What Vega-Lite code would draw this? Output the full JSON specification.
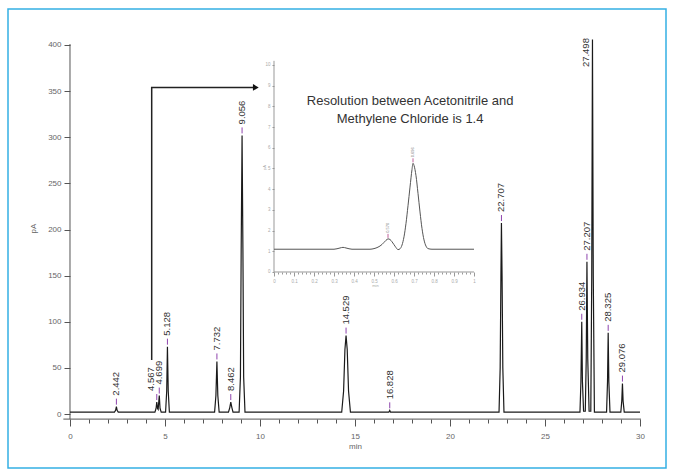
{
  "$schema": "https://vega.github.io/schema/vega-lite/v6.json",
  "width": 658,
  "height": 459,
  "autosize": {"type": "none"},
  "padding": {"left": 8, "top": 9, "right": 8, "bottom": 8},
  "background": "#ffffff",
  "config": {
    "view": {"stroke": "#35b0e4", "strokeWidth": 1.5},
    "axis": {"grid": false, "domain": false, "labelFont": "Liberation Sans", "titleFont": "Liberation Sans"}
  },
  "datasets": {
    "chrom": [
      {"t": 0, "pA": 2},
      {"t": 2.34, "pA": 2}, {"t": 2.40, "pA": 4}, {"t": 2.442, "pA": 8}, {"t": 2.48, "pA": 4}, {"t": 2.54, "pA": 2},
      {"t": 4.47, "pA": 2}, {"t": 4.53, "pA": 6}, {"t": 4.567, "pA": 13}, {"t": 4.61, "pA": 6}, {"t": 4.64, "pA": 5}, {"t": 4.699, "pA": 20}, {"t": 4.74, "pA": 6}, {"t": 4.80, "pA": 2},
      {"t": 5.03, "pA": 2}, {"t": 5.09, "pA": 25}, {"t": 5.128, "pA": 73}, {"t": 5.17, "pA": 25}, {"t": 5.23, "pA": 2},
      {"t": 7.61, "pA": 2}, {"t": 7.68, "pA": 20}, {"t": 7.732, "pA": 57}, {"t": 7.78, "pA": 20}, {"t": 7.85, "pA": 2},
      {"t": 8.34, "pA": 2}, {"t": 8.41, "pA": 7}, {"t": 8.462, "pA": 13}, {"t": 8.52, "pA": 7}, {"t": 8.58, "pA": 2},
      {"t": 8.90, "pA": 2}, {"t": 8.97, "pA": 40}, {"t": 9.01, "pA": 180}, {"t": 9.056, "pA": 302}, {"t": 9.10, "pA": 180}, {"t": 9.14, "pA": 40}, {"t": 9.21, "pA": 2},
      {"t": 14.30, "pA": 2}, {"t": 14.40, "pA": 25}, {"t": 14.47, "pA": 70}, {"t": 14.529, "pA": 85}, {"t": 14.59, "pA": 70}, {"t": 14.66, "pA": 25}, {"t": 14.76, "pA": 2},
      {"t": 16.78, "pA": 2}, {"t": 16.828, "pA": 4}, {"t": 16.87, "pA": 2},
      {"t": 22.58, "pA": 2}, {"t": 22.64, "pA": 50}, {"t": 22.68, "pA": 150}, {"t": 22.707, "pA": 207}, {"t": 22.74, "pA": 150}, {"t": 22.78, "pA": 50}, {"t": 22.84, "pA": 2},
      {"t": 26.84, "pA": 2}, {"t": 26.89, "pA": 35}, {"t": 26.934, "pA": 100}, {"t": 26.97, "pA": 35}, {"t": 27.03, "pA": 3},
      {"t": 27.12, "pA": 3}, {"t": 27.17, "pA": 60}, {"t": 27.207, "pA": 165}, {"t": 27.25, "pA": 60}, {"t": 27.32, "pA": 3},
      {"t": 27.41, "pA": 3}, {"t": 27.46, "pA": 150}, {"t": 27.498, "pA": 406}, {"t": 27.54, "pA": 150}, {"t": 27.60, "pA": 2},
      {"t": 28.24, "pA": 2}, {"t": 28.29, "pA": 35}, {"t": 28.325, "pA": 88}, {"t": 28.36, "pA": 35}, {"t": 28.42, "pA": 2},
      {"t": 28.99, "pA": 2}, {"t": 29.04, "pA": 14}, {"t": 29.076, "pA": 33}, {"t": 29.11, "pA": 14}, {"t": 29.17, "pA": 2},
      {"t": 30.0, "pA": 2}
    ],
    "peaks": [
      {"t": 2.442, "pA": 8, "label": "2.442"},
      {"t": 4.567, "pA": 13, "label": "4.567"},
      {"t": 4.699, "pA": 20, "label": "4.699"},
      {"t": 5.128, "pA": 73, "label": "5.128"},
      {"t": 7.732, "pA": 57, "label": "7.732"},
      {"t": 8.462, "pA": 13, "label": "8.462"},
      {"t": 9.056, "pA": 302, "label": "9.056"},
      {"t": 14.529, "pA": 85, "label": "14.529"},
      {"t": 16.828, "pA": 4, "label": "16.828"},
      {"t": 22.707, "pA": 207, "label": "22.707"},
      {"t": 26.934, "pA": 100, "label": "26.934"},
      {"t": 27.207, "pA": 165, "label": "27.207"},
      {"t": 28.325, "pA": 88, "label": "28.325"},
      {"t": 29.076, "pA": 33, "label": "29.076"}
    ],
    "mainAxes": [
      {"t": 0, "pA": -5.5, "t2": 0, "pA2": 401},
      {"t": -0.35, "pA": -5.5, "t2": 30.05, "pA2": -5.5}
    ],
    "arrow": [
      {"i": 1, "t": 4.3, "pA": 58.5},
      {"i": 2, "t": 4.3, "pA": 354},
      {"i": 3, "t": 9.7, "pA": 354}
    ],
    "note": [
      {"t": 17.9, "pA": 339, "txt": "Resolution between Acetonitrile and"},
      {"t": 17.9, "pA": 320, "txt": "Methylene Chloride is 1.4"}
    ],
    "inset": [
      {"u": 0, "v": 1.1}, {"u": 0.30, "v": 1.1}, {"u": 0.33, "v": 1.16}, {"u": 0.345, "v": 1.19}, {"u": 0.36, "v": 1.16}, {"u": 0.39, "v": 1.1},
      {"u": 0.48, "v": 1.1}, {"u": 0.50, "v": 1.13}, {"u": 0.52, "v": 1.2}, {"u": 0.54, "v": 1.33}, {"u": 0.55, "v": 1.43}, {"u": 0.56, "v": 1.53},
      {"u": 0.57, "v": 1.6}, {"u": 0.58, "v": 1.57}, {"u": 0.59, "v": 1.46}, {"u": 0.60, "v": 1.32}, {"u": 0.61, "v": 1.18}, {"u": 0.62, "v": 1.08},
      {"u": 0.63, "v": 1.12}, {"u": 0.64, "v": 1.3}, {"u": 0.65, "v": 1.7}, {"u": 0.66, "v": 2.35}, {"u": 0.67, "v": 3.2}, {"u": 0.68, "v": 4.1},
      {"u": 0.69, "v": 4.95}, {"u": 0.695, "v": 5.25}, {"u": 0.70, "v": 5.15}, {"u": 0.71, "v": 4.65}, {"u": 0.72, "v": 3.8}, {"u": 0.73, "v": 2.9},
      {"u": 0.74, "v": 2.1}, {"u": 0.75, "v": 1.55}, {"u": 0.76, "v": 1.25}, {"u": 0.77, "v": 1.13}, {"u": 0.79, "v": 1.1}, {"u": 1.0, "v": 1.1}
    ],
    "insetPeaks": [
      {"u": 0.57, "v": 1.6, "label": "0.570"},
      {"u": 0.695, "v": 5.25, "label": "0.696"}
    ],
    "insetAxes": [
      {"u": 0, "v": 0, "u2": 0, "v2": 10.2},
      {"u": 0, "v": 0, "u2": 1.0, "v2": 0}
    ]
  },
  "layer": [
    {
      "encoding": {
        "x": {
          "field": "t", "type": "quantitative",
          "scale": {"domain": [-3.263, 31.368], "nice": false, "zero": false},
          "axis": {
            "orient": "bottom", "offset": -49,
            "values": [0,1,2,3,4,5,6,7,8,9,10,11,12,13,14,15,16,17,18,19,20,21,22,23,24,25,26,27,28,29,30],
            "labelExpr": "datum.value % 5 === 0 ? datum.label : ''",
            "tickSize": {"condition": {"test": "datum.value % 5 === 0", "value": 7}, "value": 4},
            "tickColor": "#555", "labelColor": "#666", "labelFontSize": 8, "labelPadding": 6,
            "labelOverlap": false, "labelFlush": false,
            "title": "min", "titleFontSize": 8, "titleFontWeight": "normal", "titleColor": "#666",
            "titleX": 347, "titleY": 27, "titleBaseline": "middle"
          }
        },
        "y": {
          "field": "pA", "type": "quantitative",
          "scale": {"domain": [-58.5, 439], "nice": false, "zero": false},
          "axis": {
            "orient": "left", "offset": -62,
            "values": [0,50,100,150,200,250,300,350,400],
            "tickSize": 6, "tickColor": "#555", "labelColor": "#666", "labelFontSize": 8, "labelPadding": 3,
            "labelOverlap": false, "labelFlush": false,
            "title": "pA", "titleFontSize": 8, "titleFontWeight": "normal", "titleColor": "#666",
            "titleX": -37, "titleY": 219, "titleBaseline": "middle", "titleAlign": "center"
          }
        }
      },
      "layer": [
        {"data": {"name": "mainAxes"}, "mark": {"type": "rule", "color": "#555", "strokeWidth": 1},
         "encoding": {"x2": {"field": "t2"}, "y2": {"field": "pA2"}}},
        {"data": {"name": "chrom"}, "mark": {"type": "line", "color": "#1a1a1a", "strokeWidth": 1.2}, "encoding": {}},
        {"data": {"name": "peaks"}, "mark": {"type": "rule", "color": "#8e44ad", "strokeWidth": 1, "yOffset": -2, "y2Offset": -8},
         "encoding": {"y2": {"field": "pA"}}},
        {"data": {"name": "peaks"}, "transform": [{"filter": "datum.label !== '4.567'"}],
         "mark": {"type": "text", "angle": 270, "align": "left", "baseline": "middle", "yOffset": -11, "fontSize": 9.5,
                  "font": "Liberation Sans", "color": "#333"},
         "encoding": {"text": {"field": "label"}}},
        {"data": {"name": "peaks"}, "transform": [{"filter": "datum.label === '4.567'"}],
         "mark": {"type": "text", "angle": 270, "align": "left", "baseline": "middle", "yOffset": -11, "xOffset": -6, "fontSize": 9.5,
                  "font": "Liberation Sans", "color": "#333"},
         "encoding": {"text": {"field": "label"}}},
        {"data": {"values": [{"t": 27.498, "pA": 376, "label": "27.498"}]},
         "mark": {"type": "text", "angle": 270, "align": "left", "baseline": "middle", "xOffset": -6, "fontSize": 9.5,
                  "font": "Liberation Sans", "color": "#333"},
         "encoding": {"text": {"field": "label"}}},
        {"data": {"name": "arrow"}, "mark": {"type": "line", "color": "#222", "strokeWidth": 1.5},
         "encoding": {"order": {"field": "i", "type": "quantitative"}}},
        {"data": {"values": [{"t": 9.78, "pA": 354}]},
         "mark": {"type": "point", "shape": "triangle-right", "filled": true, "size": 45, "color": "#111", "opacity": 1},
         "encoding": {}},
        {"data": {"name": "note"},
         "mark": {"type": "text", "align": "center", "baseline": "middle", "fontSize": 13, "font": "Liberation Sans", "color": "#333"},
         "encoding": {"text": {"field": "txt"}}}
      ]
    },
    {
      "encoding": {
        "x": {
          "field": "u", "type": "quantitative",
          "scale": {"domain": [-1.33, 1.96], "nice": false, "zero": false},
          "axis": {
            "orient": "bottom", "offset": -196,
            "values": [0,0.02,0.04,0.06,0.08,0.1,0.12,0.14,0.16,0.18,0.2,0.22,0.24,0.26,0.28,0.3,0.32,0.34,0.36,0.38,0.4,0.42,0.44,0.46,0.48,0.5,0.52,0.54,0.56,0.58,0.6,0.62,0.64,0.66,0.68,0.7,0.72,0.74,0.76,0.78,0.8,0.82,0.84,0.86,0.88,0.9,0.92,0.94,0.96,0.98,1],
            "labelExpr": "round(datum.value*50) % 5 === 0 ? format(datum.value, '.1~f') : ''",
            "tickSize": {"condition": {"test": "round(datum.value*50) % 5 === 0", "value": 4}, "value": 2},
            "tickColor": "#999", "labelColor": "#aaa", "labelFontSize": 4.5, "labelPadding": 2,
            "labelOverlap": false, "labelFlush": false,
            "title": "min", "titleFontSize": 4, "titleFontWeight": "normal", "titleColor": "#aaa",
            "titleX": 367, "titleY": 13, "titleBaseline": "middle"
          }
        },
        "y": {
          "field": "v", "type": "quantitative",
          "scale": {"domain": [-9.469, 12.705], "nice": false, "zero": false},
          "axis": {
            "orient": "left", "offset": -266,
            "values": [0,1,2,3,4,5,6,7,8,9,10],
            "tickSize": 2, "tickColor": "#999", "labelColor": "#aaa", "labelFontSize": 4.5, "labelPadding": 2,
            "labelOverlap": false, "labelFlush": false,
            "title": "pA", "titleFontSize": 4, "titleFontWeight": "normal", "titleColor": "#aaa",
            "titleX": -10, "titleY": 158, "titleBaseline": "middle", "titleAlign": "center"
          }
        }
      },
      "layer": [
        {"data": {"name": "insetAxes"}, "mark": {"type": "rule", "color": "#999", "strokeWidth": 1},
         "encoding": {"x2": {"field": "u2"}, "y2": {"field": "v2"}}},
        {"data": {"name": "inset"}, "mark": {"type": "line", "color": "#555", "strokeWidth": 1, "interpolate": "monotone"}, "encoding": {}},
        {"data": {"name": "insetPeaks"}, "mark": {"type": "rule", "color": "#c0609a", "strokeWidth": 1, "yOffset": -1, "y2Offset": -5},
         "encoding": {"y2": {"field": "v"}}},
        {"data": {"name": "insetPeaks"},
         "mark": {"type": "text", "angle": 270, "align": "left", "baseline": "middle", "yOffset": -6, "fontSize": 4, "font": "Liberation Sans", "color": "#777"},
         "encoding": {"text": {"field": "label"}}}
      ]
    }
  ],
  "resolve": {"scale": {"x": "independent", "y": "independent"}}
}
